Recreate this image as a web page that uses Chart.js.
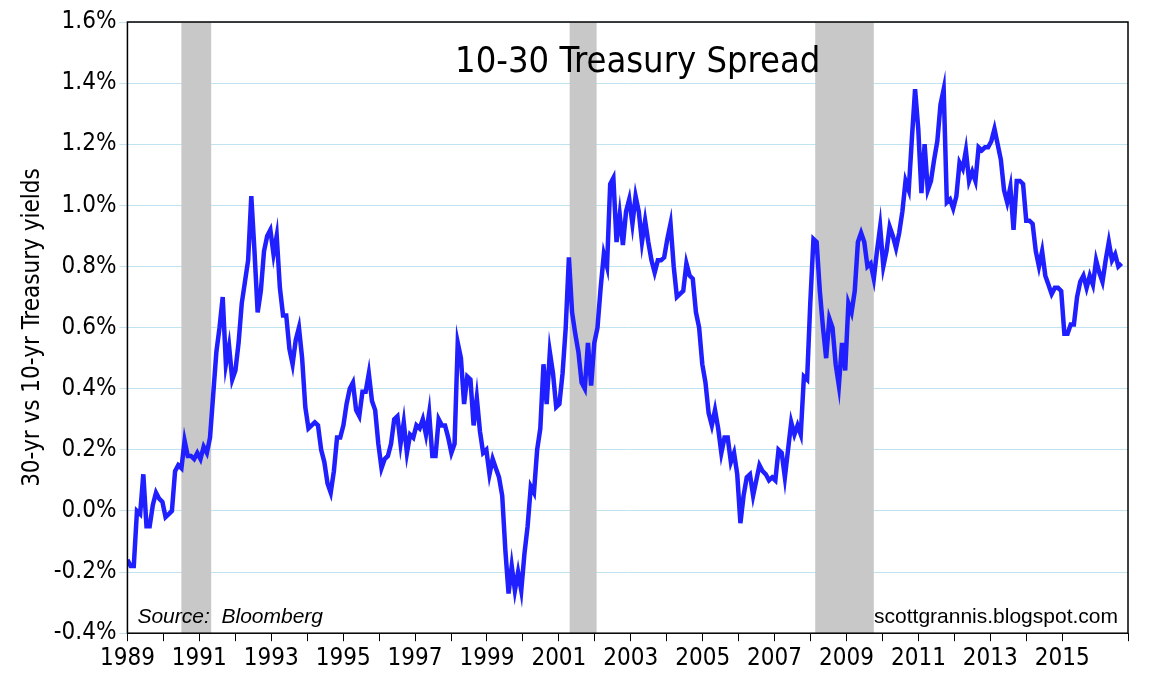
<!DOCTYPE html>
<html>
<head>
<meta charset="utf-8">
<script src="https://cdn.jsdelivr.net/npm/chart.js@4/dist/chart.umd.min.js"></script>
<style>
  body { margin: 0; background: #fff; }
  canvas { display: block; }
</style>
</head>
<body>
<canvas id="spread" width="1156" height="676"></canvas>
<script>
// roughly monthly 30yr minus 10yr spread (%), Jan 1989 to mid 2016
const startYear = 1989;
const endYear = 2016.65;
const spread = [
  -0.16,-0.18,-0.18,0.0,-0.01,0.12,-0.05,-0.05,0.02,0.06,0.04,0.03,
  -0.02,-0.01,0.0,0.13,0.15,0.14,0.23,0.18,0.18,0.17,0.19,0.17,
  0.21,0.19,0.24,0.38,0.52,0.6,0.70,0.48,0.54,0.43,0.46,0.55,
  0.68,0.75,0.82,1.03,0.85,0.65,0.72,0.85,0.9,0.92,0.84,0.9,
  0.73,0.64,0.64,0.53,0.48,0.56,0.6,0.5,0.34,0.27,0.28,0.29,
  0.28,0.2,0.16,0.09,0.06,0.13,0.24,0.24,0.28,0.35,0.4,0.42,
  0.33,0.31,0.39,0.39,0.45,0.36,0.33,0.22,0.14,0.17,0.18,0.22,
  0.3,0.31,0.22,0.29,0.19,0.25,0.24,0.28,0.27,0.3,0.25,0.32,
  0.18,0.18,0.3,0.28,0.28,0.24,0.19,0.22,0.55,0.5,0.35,0.44,
  0.43,0.28,0.37,0.26,0.19,0.2,0.12,0.17,0.14,0.11,0.05,-0.13,
  -0.27,-0.18,-0.26,-0.2,-0.26,-0.14,-0.05,0.08,0.06,0.2,0.27,0.48,
  0.35,0.52,0.45,0.34,0.35,0.45,0.6,0.83,0.65,0.58,0.52,0.42,
  0.4,0.55,0.41,0.55,0.6,0.73,0.84,0.8,1.07,1.09,0.88,0.97,
  0.87,0.98,1.02,0.94,1.03,0.98,0.88,0.95,0.88,0.82,0.78,0.82,
  0.82,0.83,0.89,0.94,0.8,0.7,0.71,0.72,0.81,0.77,0.76,0.65,
  0.6,0.48,0.42,0.32,0.28,0.33,0.27,0.19,0.24,0.24,0.16,0.19,
  0.12,-0.04,0.05,0.11,0.12,0.05,0.1,0.15,0.13,0.12,0.1,0.11,
  0.1,0.2,0.19,0.11,0.2,0.29,0.25,0.28,0.25,0.44,0.43,0.68,
  0.89,0.88,0.72,0.6,0.5,0.63,0.6,0.48,0.41,0.55,0.46,0.68,
  0.65,0.72,0.88,0.91,0.88,0.8,0.81,0.76,0.85,0.93,0.8,0.85,
  0.93,0.9,0.86,0.91,0.98,1.08,1.05,1.22,1.38,1.25,1.04,1.2,
  1.05,1.08,1.15,1.21,1.33,1.38,1.01,1.02,0.99,1.03,1.14,1.12,
  1.18,1.08,1.11,1.08,1.19,1.18,1.19,1.19,1.21,1.25,1.2,1.15,
  1.05,1.01,1.06,0.92,1.08,1.08,1.07,0.95,0.95,0.94,0.85,0.8,
  0.85,0.77,0.74,0.71,0.73,0.73,0.72,0.58,0.58,0.61,0.61,0.7,
  0.75,0.77,0.73,0.77,0.74,0.82,0.78,0.75,0.82,0.88,0.82,0.84,
  0.8,0.81
];
const recessions = [[1990.5, 1991.33], [2001.3, 2002.05], [2008.13, 2009.76]];
const yTicks = [-0.4, -0.2, 0.0, 0.2, 0.4, 0.6, 0.8, 1.0, 1.2, 1.4, 1.6];

const step = (endYear - startYear) / (spread.length - 1);
const points = spread.map((v, i) => ({ x: startYear + i * step, y: v }));

const axisFont = '"Liberation Sans Narrow", "DejaVu Sans Condensed", sans-serif';

const extras = {
  id: 'extras',
  beforeDatasetsDraw(chart) {
    const { ctx, chartArea: a, scales: { x } } = chart;
    ctx.save();
    ctx.fillStyle = '#c8c8c8';
    recessions.forEach(([s, e]) => {
      const x0 = x.getPixelForValue(s), x1 = x.getPixelForValue(e);
      ctx.fillRect(x0, a.top, x1 - x0, a.bottom - a.top);
    });
    ctx.restore();
  },
  afterDatasetsDraw(chart) {
    const { ctx, chartArea: a } = chart;
    ctx.save();
    ctx.fillStyle = '#000';
    ctx.font = '36px ' + axisFont;
    ctx.textAlign = 'center';
    ctx.fillText('10-30 Treasury Spread', (a.left + a.right) / 2 + 10, a.top + 50);
    ctx.font = 'italic 21px "Liberation Sans", sans-serif';
    ctx.textAlign = 'left';
    ctx.fillText('Source:  Bloomberg', a.left + 10, a.bottom - 10);
    ctx.font = '21px "Liberation Sans", sans-serif';
    ctx.textAlign = 'right';
    ctx.fillText('scottgrannis.blogspot.com', a.right - 10, a.bottom - 10);
    ctx.strokeStyle = '#000';
    ctx.lineWidth = 1.5;
    ctx.strokeRect(a.left, a.top, a.right - a.left, a.bottom - a.top);
    ctx.restore();
  }
};

new Chart(document.getElementById('spread'), {
  type: 'line',
  data: {
    datasets: [{
      data: points,
      borderColor: '#1f1fff',
      borderWidth: 4.5,
      pointRadius: 0,
      tension: 0,
      fill: false
    }]
  },
  options: {
    responsive: false,
    animation: false,
    layout: { padding: { top: 22, right: 28, left: 14, bottom: 0 } },
    plugins: { legend: { display: false }, tooltip: { enabled: false } },
    scales: {
      x: {
        type: 'linear',
        min: 1989,
        max: 2016.83,
        grid: { drawOnChartArea: false, drawTicks: true, tickLength: 8, color: '#000' },
        border: { display: false },
        ticks: {
          stepSize: 1,
          autoSkip: false,
          maxRotation: 0,
          color: '#000',
          font: { size: 24, family: axisFont },
          callback: v => (Number.isInteger(v) && v % 2 === 1 && v <= 2015) ? String(v) : ''
        }
      },
      y: {
        min: -0.4,
        max: 1.6,
        afterBuildTicks: s => { s.ticks = yTicks.map(v => ({ value: v })); },
        grid: { color: '#bfe3f0', lineWidth: 1, drawTicks: true, tickLength: 8 },
        border: { display: false },
        title: {
          display: true,
          text: '30-yr vs 10-yr Treasury yields',
          color: '#000',
          font: { size: 24, family: axisFont }
        },
        ticks: {
          color: '#000',
          font: { size: 24, family: axisFont },
          callback: v => v.toFixed(1) + '%'
        }
      }
    }
  },
  plugins: [extras]
});
</script>
</body>
</html>
